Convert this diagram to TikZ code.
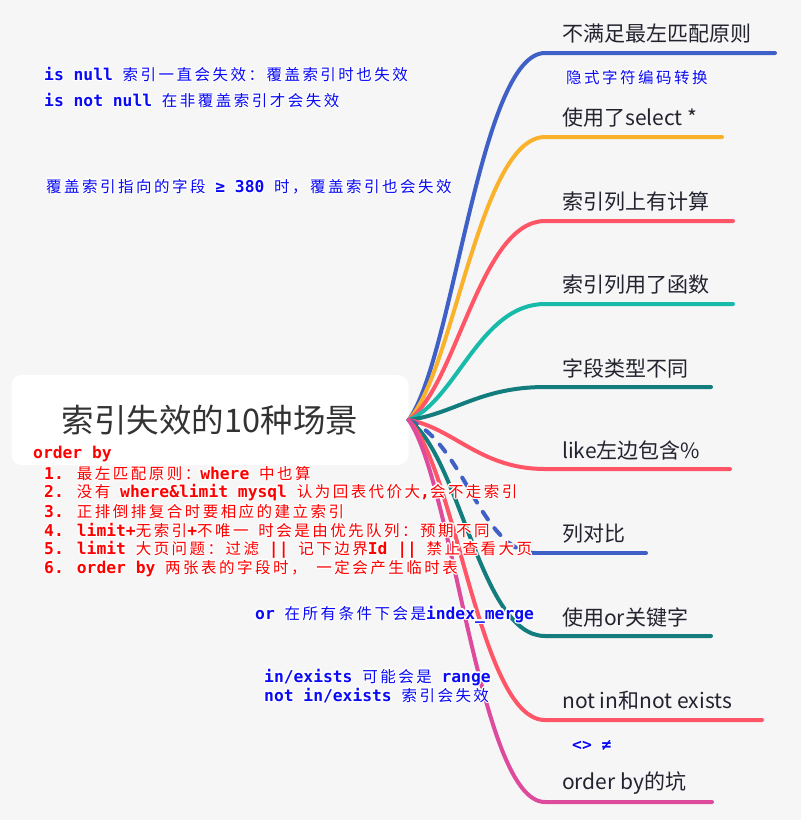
\documentclass[tikz,border=0pt]{standalone}
\usepackage{fontspec}
\usepackage{contour}
\setmainfont{Noto Sans CJK SC}
\newfontfamily\topicfont{Noto Sans CJK SC}
\newfontfamily\notefont[LetterSpace=16]{Noto Sans CJK SC}
\newfontfamily\codefont{DejaVu Sans Mono}
\contourlength{1.3pt}
\contournumber{12}

\definecolor{bgcol}{HTML}{F6F6F7}
\definecolor{rootcol}{HTML}{333333}
\definecolor{topiccol}{HTML}{23232F}
\definecolor{brblue}{HTML}{3F60C6}
\definecolor{brorange}{HTML}{FBB22B}
\definecolor{brred}{HTML}{FF5566}
\definecolor{brteal}{HTML}{18BBAA}
\definecolor{brdark}{HTML}{137D7D}
\definecolor{brpink}{HTML}{DE4B9C}
\definecolor{noteblue}{HTML}{0A0AF5}
\definecolor{notered}{HTML}{FF0000}

% bold monospace for keywords inside the notes (spaces stay monospaced)
\newcommand\kw[1]{{\codefont\bfseries\fontsize{16.3}{18}\selectfont\obeyspaces #1}}
% note text with a white halo
\newcommand\halo[1]{\contour{white}{#1}}

\begin{document}
\begin{tikzpicture}[x=1pt,y=-1pt,
  branch/.style={line width=4pt,line cap=round},
  topic/.style={font=\topicfont\fontsize{21}{24}\selectfont,text=topiccol,anchor=west,inner sep=0pt},
  bluenote/.style={font=\notefont\fontsize{15.5}{18}\selectfont,text=noteblue,anchor=west,inner sep=0pt},
  rednote/.style={font=\notefont\fontsize{15.5}{18}\selectfont,text=notered,anchor=west,inner sep=0pt}]

% canvas
\fill[bgcol] (0,0) rectangle (801,820);
\useasboundingbox (0,0) rectangle (801,820);

% central topic
\node[fill=white,rounded corners=10pt,minimum width=397pt,minimum height=90pt,inner sep=0pt,
      font=\topicfont\fontsize{32.5}{38}\selectfont,text=rootcol] (root) at (210,420) {索引失效的10种场景};

% branch ends (curve meets underline) and underline ends
\coordinate (e1) at (545,53);  \coordinate (u1) at (775,53);
\coordinate (e2) at (545,137); \coordinate (u2) at (722,137);
\coordinate (e3) at (545,221); \coordinate (u3) at (733,221);
\coordinate (e4) at (545,304); \coordinate (u4) at (733,304);
\coordinate (e5) at (545,387); \coordinate (u5) at (711,387);
\coordinate (e6) at (545,469); \coordinate (u6) at (730,469);
\coordinate (e7) at (536,553); \coordinate (u7) at (646,553);
\coordinate (e8) at (545,636); \coordinate (u8) at (711,636);
\coordinate (e9) at (545,720); \coordinate (u9) at (762,720);
\coordinate (e10) at (545,802); \coordinate (u10) at (712,802);

% branches
\draw[branch,brblue]   (root.east) .. controls +(45,-63) and +(-65,0) .. (e1) -- (u1);
\draw[branch,brorange] (root.east) .. controls +(45,-48) and +(-65,0) .. (e2) -- (u2);
\draw[branch,brred]    (root.east) .. controls +(48,-34) and +(-65,0) .. (e3) -- (u3);
\draw[branch,brteal]   (root.east) .. controls +(48,-20) and +(-65,0) .. (e4) -- (u4);
\draw[branch,brdark]   (root.east) .. controls +(45,-6)  and +(-65,0) .. (e5) -- (u5);
\draw[branch,brred]    (root.east) .. controls +(45,8)   and +(-65,0) .. (e6) -- (u6);
\draw[branch,brblue,dash pattern=on 9pt off 11pt] (root.east) .. controls +(55,22) and +(-55,0) .. (e7);
\draw[branch,brblue]   (e7) -- (u7);
\draw[branch,brdark]   (root.east) .. controls +(52,37)  and +(-65,0) .. (e8) -- (u8);
\draw[branch,brred]    (root.east) .. controls +(48,51)  and +(-65,0) .. (e9) -- (u9);
\draw[branch,brpink]   (root.east) .. controls +(45,65)  and +(-65,0) .. (e10) -- (u10);

% topic labels
\node[topic] (t1) at (562,34)  {不满足最左匹配原则};
\node[topic] (t2) at (562,118) {使用了select *};
\node[topic] (t3) at (562,202) {索引列上有计算};
\node[topic] (t4) at (562,285) {索引列用了函数};
\node[topic] (t5) at (562,368) {字段类型不同};
\node[topic] (t6) at (562,450) {like左边包含\%};
\node[topic] (t7) at (562,534) {列对比};
\node[topic] (t8) at (562,617) {使用or关键字};
\node[topic] (t9) at (562,701) {not in和not exists};
\node[topic] (t10) at (562,783) {order by的坑};

% notes
\node[bluenote] (n1) at (44,75)  {\halo{\kw{is null }索引一直会失效：覆盖索引时也失效}};
\node[bluenote] (n2) at (44,101) {\halo{\kw{is not null }在非覆盖索引才会失效}};
\node[bluenote] (n3) at (46,187) {\halo{覆盖索引指向的字段\kw{  ≥ 380 }时，覆盖索引也会失效}};
\node[bluenote] (n4) at (566,78) {\halo{隐式字符编码转换}};

\node[rednote] (r0) at (33,455) {\halo{\kw{order by}}};
\node[rednote] (r1) at (44,474) {\halo{\kw{1. }最左匹配原则：\kw{where }中也算}};
\node[rednote] (r2) at (44,493) {\halo{\kw{2. }没有\kw{ where\&limit mysql }认为回表代价大\kw{,}会不走索引}};
\node[rednote] (r3) at (44,512) {\halo{\kw{3. }正排倒排复合时要相应的建立索引}};
\node[rednote] (r4) at (44,531) {\halo{\kw{4. limit+}无索引\kw{+}不唯一\kw{ }时会是由优先队列：预期不同}};
\node[rednote] (r5) at (44,550) {\halo{\kw{5. limit }大页问题：过滤\kw{ || }记下边界\kw{Id || }禁止查看大页}};
\node[rednote] (r6) at (44,569) {\halo{\kw{6. order by }两张表的字段时，\kw{ }一定会产生临时表}};

\node[bluenote] (b1) at (255,615) {\halo{\kw{or }在所有条件下会是\kw{index\textunderscore merge}}};
\node[bluenote] (b2) at (264,678) {\halo{\kw{in/exists }可能会是\kw{ range}}};
\node[bluenote] (b3) at (264,696) {\halo{\kw{not in/exists }索引会失效}};
\node[bluenote] (b4) at (572,746) {\halo{\kw{<> ≠}}};
\end{tikzpicture}
\end{document}
